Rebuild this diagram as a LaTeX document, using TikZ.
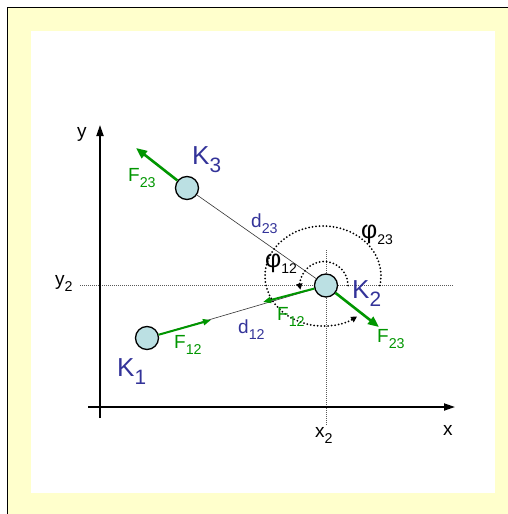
\documentclass[tikz,border=0pt]{standalone}
\usepackage{fontspec}
\setmainfont{Liberation Sans}
\usepackage{graphicx}
\usetikzlibrary{arrows.meta}
\definecolor{bgyellow}{RGB}{255,255,204}
\definecolor{txtblue}{RGB}{51,51,153}
\definecolor{fgreen}{RGB}{0,150,0}
\definecolor{ballfill}{RGB}{187,224,227}
\newcommand\sbs[2][0.75]{\raisebox{-0.33em}{\scalebox{#1}{#2}}}
\newcommand\philbl[1]{{\fontsize{25}{28}\selectfont φ}\raisebox{-6pt}{\fontsize{14}{16}\selectfont #1}}
\tikzset{
  axis/.style={line width=1.8pt,-{Triangle[length=11pt,width=7pt]}},
  guide/.style={gray!70!black,line width=0.9pt,dash pattern=on 1pt off 1pt},
  ball/.style={circle,draw=black,line width=1.3pt,fill=ballfill,minimum size=23pt,inner sep=0pt},
  dline/.style={black!80,line width=0.6pt},
  forcebig/.style={fgreen,line width=2.6pt,-{Triangle[length=11pt,width=9pt]}},
  forcesmall/.style={fgreen,line width=2pt,-{Triangle[length=8pt,width=6pt]}},
  angarc/.style={black,line width=2pt,line cap=round,dash pattern=on 0pt off 3.5pt,-{Triangle[length=6pt,width=6pt]}},
  lbl/.style={anchor=base west,inner sep=0pt,font=\fontsize{19}{22}\selectfont},
  klbl/.style={anchor=base west,inner sep=0pt,font=\fontsize{26}{30}\selectfont,text=txtblue},
}
\begin{document}
\begin{tikzpicture}[x=1pt,y=-1pt]
\useasboundingbox (0,0) rectangle (508,514);
\fill[bgyellow] (8,8) rectangle (508,514);
\draw[line width=1.6pt] (7.5,514) -- (7.5,7.5) -- (508,7.5);
\fill[white] (31,31) rectangle (495,493);
% guides
\coordinate (hl) at (80,285.5);
\coordinate (hr) at (454,285.5);
\coordinate (vt) at (326,250);
\coordinate (vb) at (326,425);
\draw[guide] (hl) -- (hr);
\draw[guide] (vt) -- (vb);
% axes
\coordinate (yb) at (100,418);
\coordinate (yt) at (100,125);
\coordinate (xl) at (88,407);
\coordinate (xr) at (455,407);
\draw[axis] (yb) -- (yt);
\draw[axis] (xl) -- (xr);
% balls
\node[ball] (K1) at (147,338) {};
\node[ball] (K2) at (326,285.5) {};
\node[ball] (K3) at (187,188) {};
\draw[dline] (K1) -- (K2);
\draw[dline] (K3) -- (K2);
% forces
\coordinate (f23a) at (136,148);
\coordinate (f12a) at (211,320);
\coordinate (f12b) at (263,302);
\coordinate (f23b) at (379,327);
\draw[forcebig] (K3) -- (f23a);
\draw[forcesmall] (K1) -- (f12a);
\draw[forcesmall] (K2) -- (f12b);
\draw[forcebig] (K2) -- (f23b);
% angle arcs
\coordinate (c12) at (324,285.5);
\coordinate (c23) at (323,276);
\draw[angarc] ([shift={(0:24pt)}]c12) arc[start angle=0,end angle=190,radius=24pt];
\draw[angarc] ([shift={(-11:58pt and 50pt)}]c23) arc[start angle=-11,end angle=306,x radius=58pt,y radius=50pt];
% labels
\node[lbl] (ly) at (77,137) {y};
\node[lbl] (lx) at (443,435) {x};
\node[lbl] (ly2) at (55,285) {y\sbs{2}};
\node[lbl] (lx2) at (315,437) {x\sbs{2}};
\node[klbl] (lK1) at (117,376) {K\sbs[0.8]{1}};
\node[klbl] (lK2) at (352,298) {K\sbs[0.8]{2}};
\node[klbl] (lK3) at (192,164) {K\sbs[0.8]{3}};
\node[lbl,text=fgreen] (lF23a) at (128,181) {F\sbs{23}};
\node[lbl,text=fgreen] (lF12a) at (174,348) {F\sbs{12}};
\node[lbl,text=fgreen] (lF12b) at (277,320) {F\sbs{12}};
\node[lbl,text=fgreen] (lF23b) at (377,342) {F\sbs{23}};
\node[lbl,text=txtblue] (ld23) at (251,227) {d\sbs{23}};
\node[lbl,text=txtblue] (ld12) at (238,333) {d\sbs{12}};
\node[lbl] (lp12) at (265,267) {\philbl{12}};
\node[lbl] (lp23) at (361,238) {\philbl{23}};
\end{tikzpicture}
\end{document}
